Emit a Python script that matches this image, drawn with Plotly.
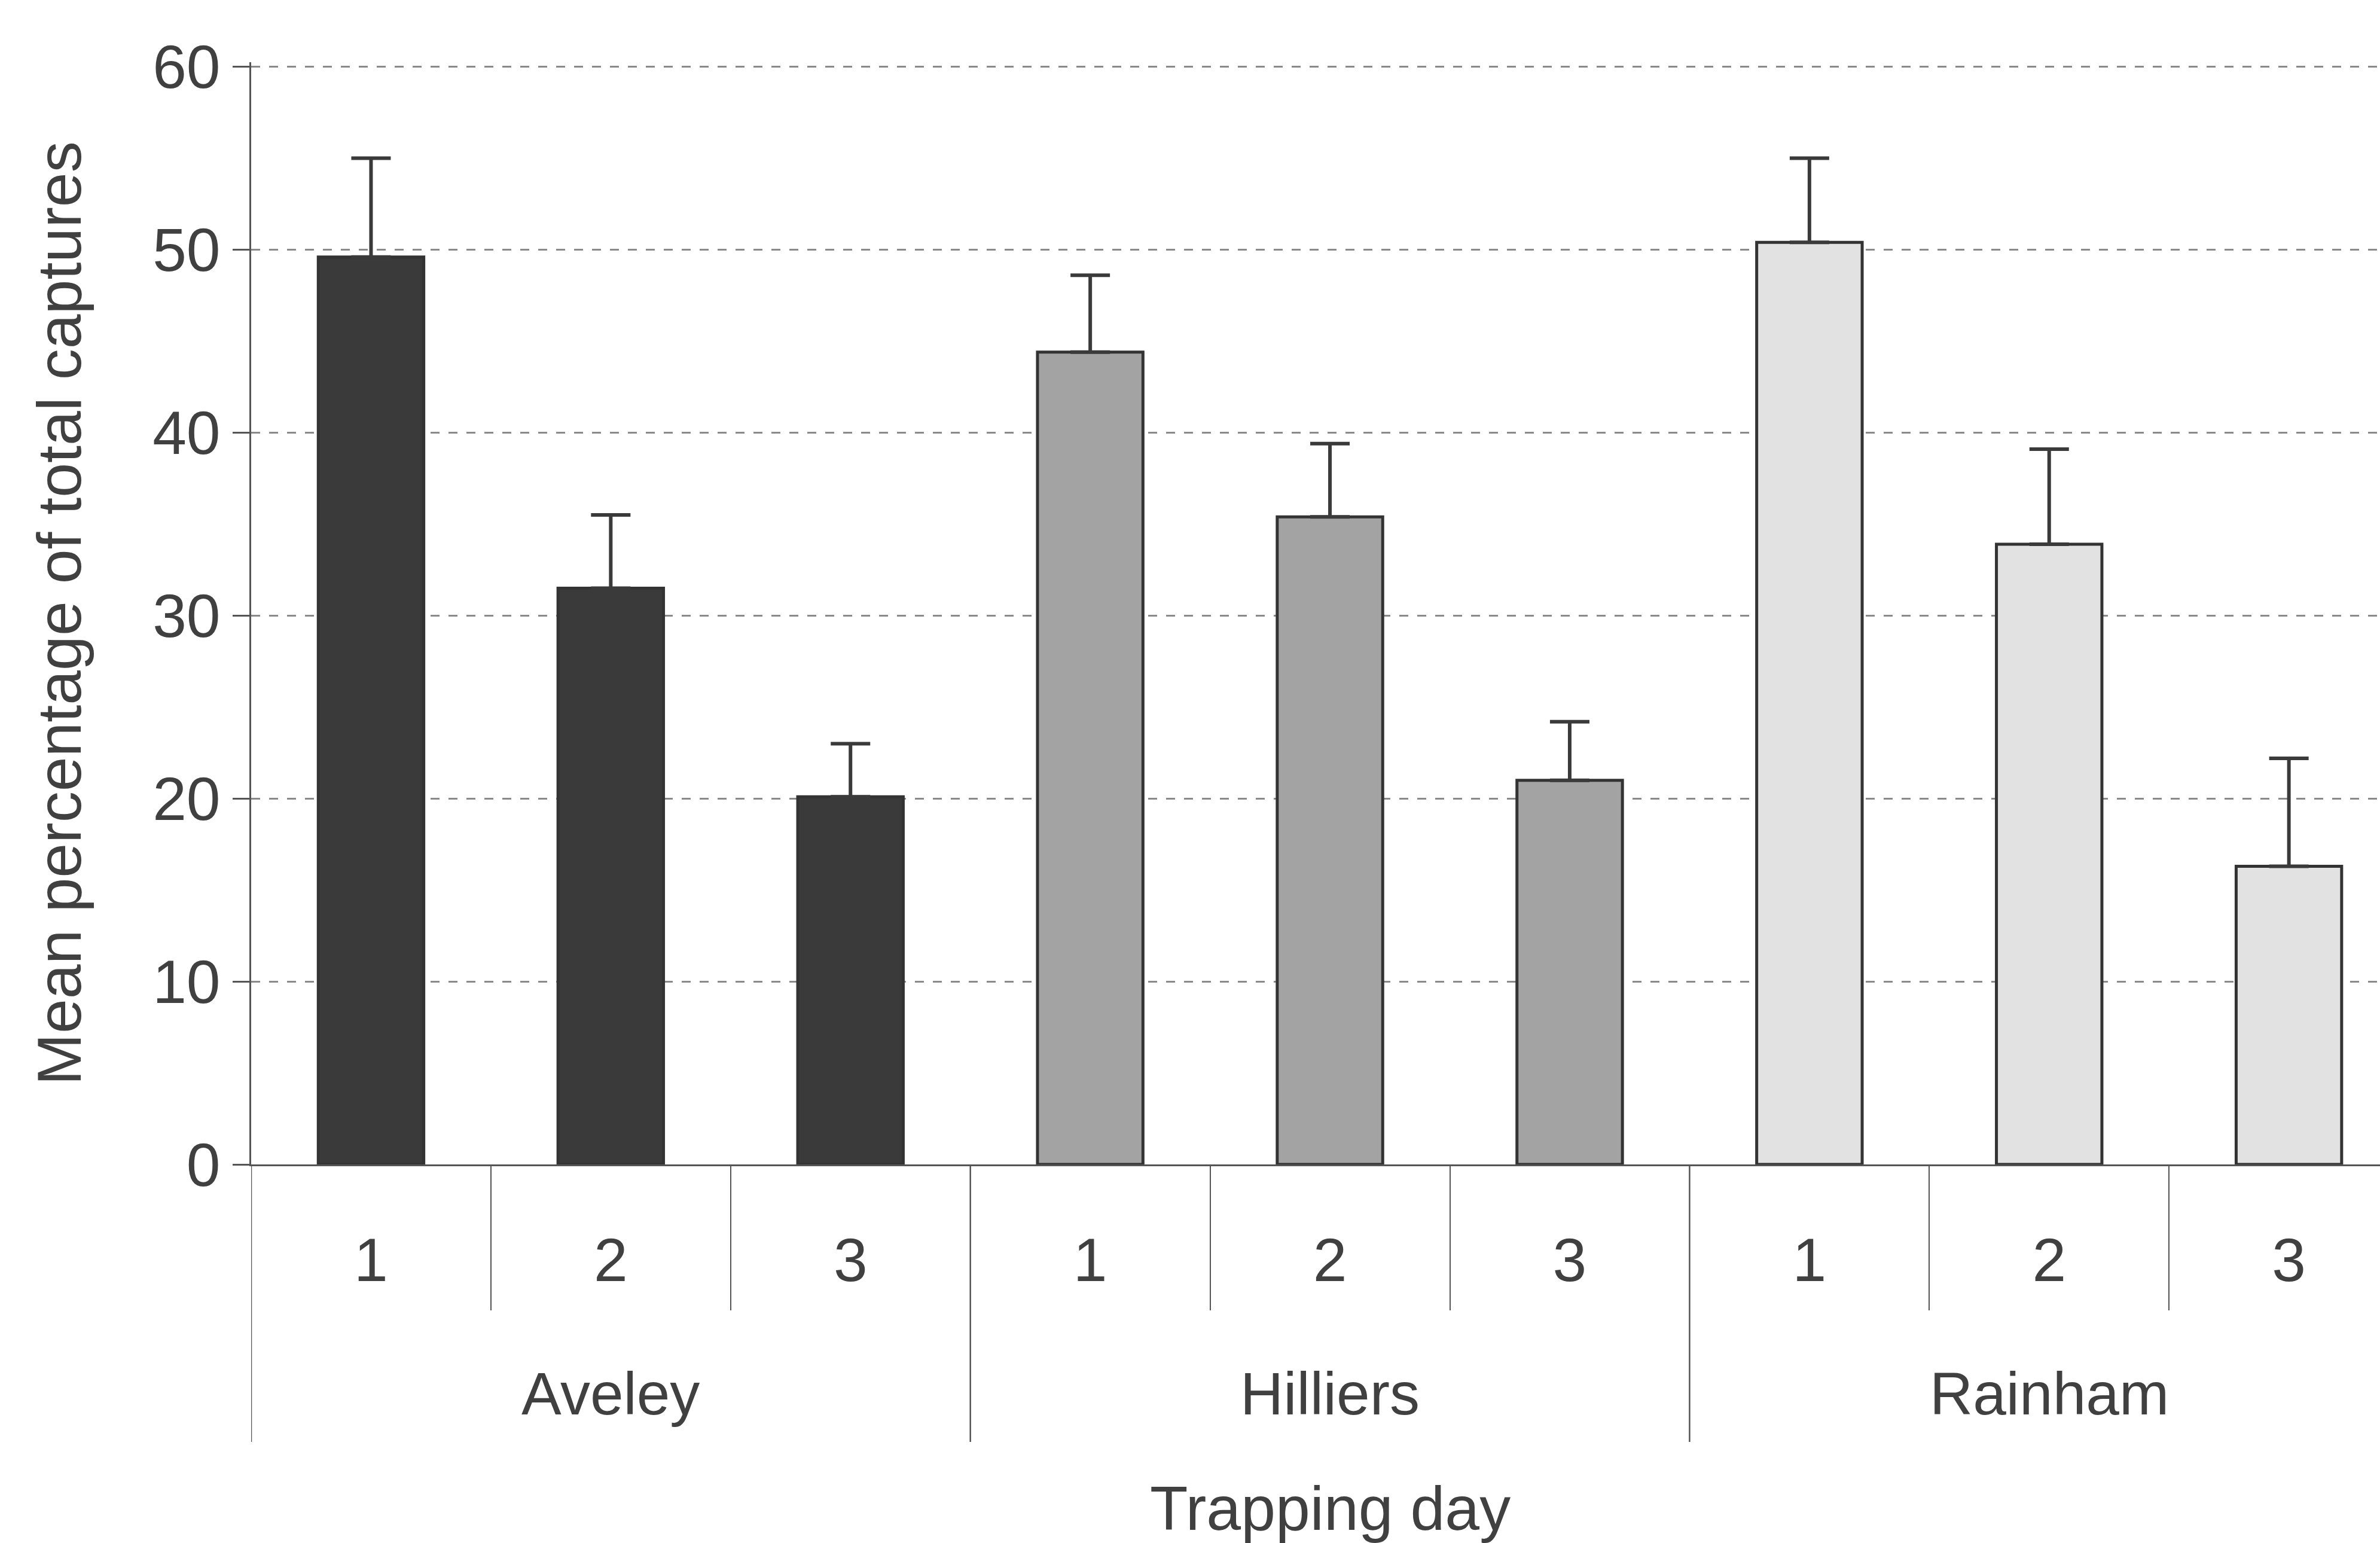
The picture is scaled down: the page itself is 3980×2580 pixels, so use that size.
import plotly.graph_objects as go

sites = ["Aveley", "Hilliers", "Rainham"]
days = ["1", "2", "3"]
mean_pct = {
    "Aveley": [49.6, 31.5, 20.1],
    "Hilliers": [44.4, 35.4, 21.0],
    "Rainham": [50.4, 33.9, 16.3],
}
se_pct = {
    "Aveley": [5.4, 4.0, 2.9],
    "Hilliers": [4.2, 4.0, 3.2],
    "Rainham": [4.6, 5.2, 5.9],
}
site_colors = {"Aveley": "#3a3a3a", "Hilliers": "#a3a3a3", "Rainham": "#e2e2e2"}
y_ticks = [0, 10, 20, 30, 40, 50, 60]
y_max = 60.25

nd = len(days)
xpos, xlab, yv, ev, cols = [], [], [], [], []
for si, s in enumerate(sites):
    for i, d in enumerate(days):
        xpos.append(si * nd + i)
        xlab.append(d)
        yv.append(mean_pct[s][i])
        ev.append(se_pct[s][i])
        cols.append(site_colors[s])

day_bounds = [si * nd + i + 0.5 for si in range(len(sites)) for i in range(nd - 1)]
group_bounds = [si * nd - 0.5 for si in range(len(sites) + 1)]
group_centers = [si * nd + (nd - 1) / 2 for si in range(len(sites))]

FONT = "Liberation Sans, Arial, sans-serif"
TXT = "#404040"
LINE = "#555555"

PLOT_BOT = 1947
PX_PER_UNIT = (1947 - 112) / 60.0
PLOT_TOP = round(PLOT_BOT - PX_PER_UNIT * y_max)
PH = PLOT_BOT - PLOT_TOP


def below(px):
    return -(px - PLOT_BOT) / PH


fig = go.Figure()
fig.add_trace(go.Bar(
    x=xpos, y=yv, width=0.44,
    marker=dict(color=cols, line=dict(color="#333333", width=5)),
    error_y=dict(type="data", array=ev, arrayminus=[0] * len(ev), symmetric=False,
                 color="#3a3a3a", thickness=6, width=33),
    showlegend=False,
))

fig.update_layout(
    width=3980, height=2580,
    margin=dict(l=420, r=0, t=PLOT_TOP, b=2580 - PLOT_BOT),
    paper_bgcolor="white", plot_bgcolor="white",
    font=dict(family=FONT, size=102, color=TXT),
)
fig.update_yaxes(
    range=[0, y_max], tickvals=y_ticks, ticks="outside", ticklen=28, tickwidth=3,
    tickcolor=LINE, showline=True, linecolor=LINE, linewidth=3,
    showgrid=True, gridcolor="#8a8a8a", gridwidth=3, griddash="15px,15px",
    zeroline=False, tickfont=dict(size=102, color=TXT),
    title=dict(text="Mean percentage of total captures", font=dict(size=104, color=TXT), standoff=85),
)
fig.update_xaxes(
    range=[-0.5, 8.38], tickvals=xpos, ticktext=xlab,
    showline=True, linecolor=LINE, linewidth=3, showgrid=False, zeroline=False,
    ticks="outside", ticklen=70, tickcolor="rgba(0,0,0,0)",
    minor=dict(tickvals=day_bounds, ticks="outside", ticklen=241, tickwidth=2, tickcolor=LINE, showgrid=False),
    tickfont=dict(size=102, color=TXT),
)

for b in group_bounds:
    fig.add_shape(type="line", xref="x", yref="paper", x0=b, x1=b, y0=0, y1=below(2411),
                  line=dict(color=LINE, width=2.5))

for s, c in zip(sites, group_centers):
    fig.add_annotation(x=c, y=below(2330), xref="x", yref="paper", text=s, showarrow=False,
                       yanchor="middle", font=dict(size=100, color=TXT))

fig.add_annotation(x=(group_centers[0] + group_centers[-1]) / 2, y=below(2522), xref="x", yref="paper",
                   text="Trapping day", showarrow=False, yanchor="middle",
                   font=dict(size=104, color=TXT))

fig.write_html("out.html")
